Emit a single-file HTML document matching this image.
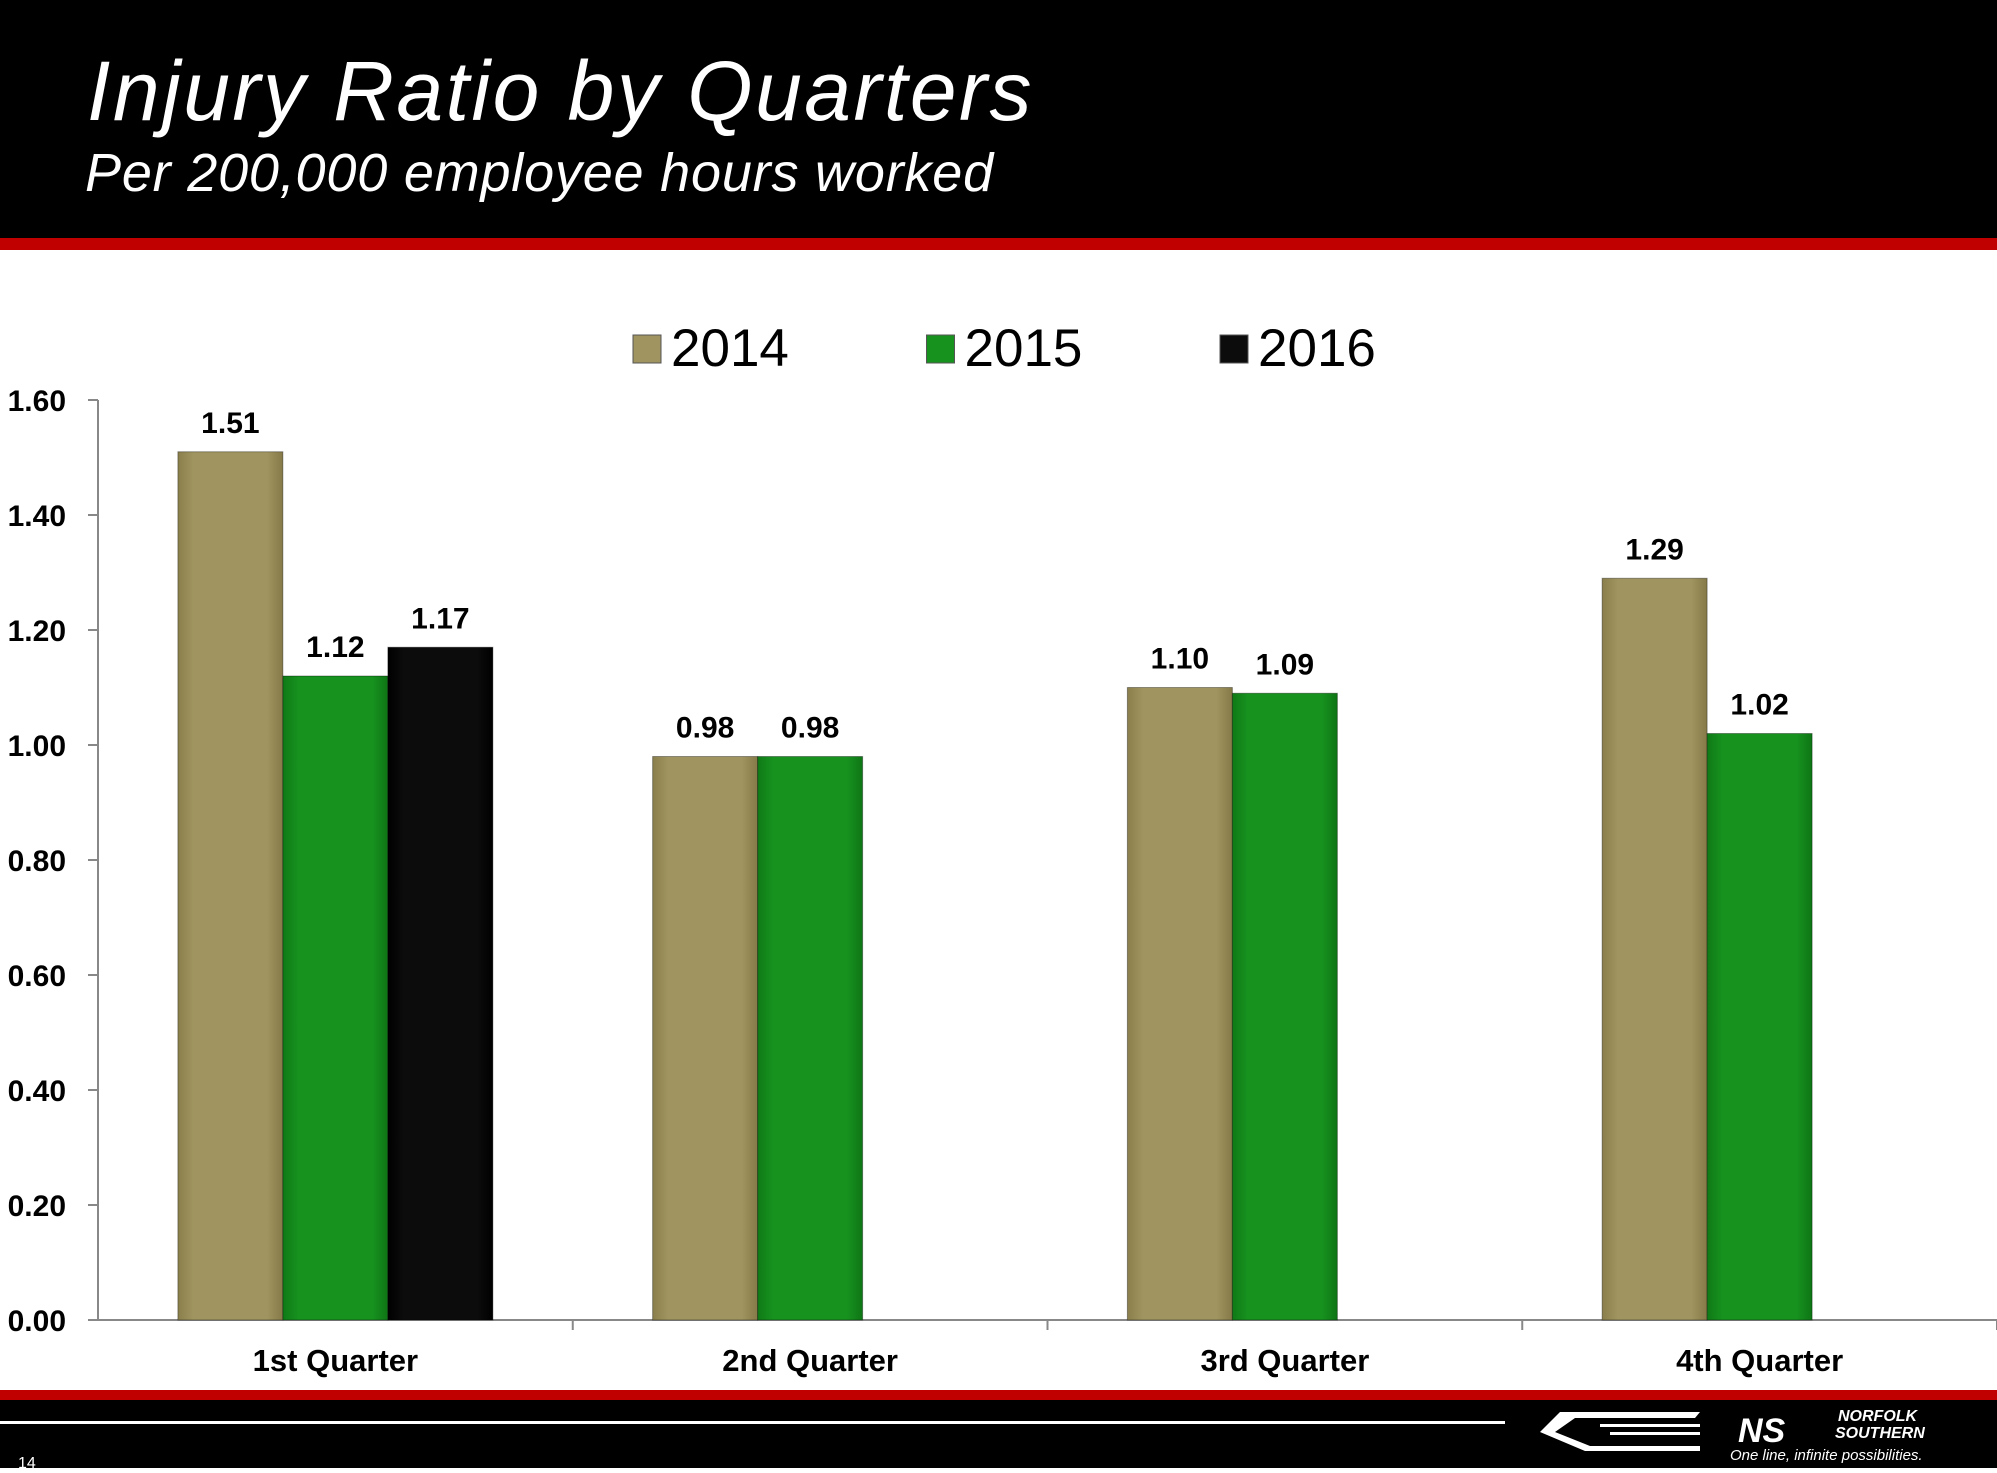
<!DOCTYPE html>
<html><head><meta charset="utf-8"><style>
body{margin:0;width:1997px;height:1468px;overflow:hidden;background:#fff;font-family:"Liberation Sans",Arial,sans-serif}
</style></head><body>
<svg width="1997" height="1468" xmlns="http://www.w3.org/2000/svg">
<defs>
<linearGradient id="gT" x1="0" x2="1"><stop offset="0" stop-color="#8a7f4c"/><stop offset="0.15" stop-color="#a09560"/><stop offset="0.85" stop-color="#a09560"/><stop offset="1" stop-color="#857a48"/></linearGradient>
<linearGradient id="gG" x1="0" x2="1"><stop offset="0" stop-color="#0f7a16"/><stop offset="0.15" stop-color="#17921f"/><stop offset="0.85" stop-color="#17921f"/><stop offset="1" stop-color="#0e7515"/></linearGradient>
<linearGradient id="gB" x1="0" x2="1"><stop offset="0" stop-color="#000"/><stop offset="0.15" stop-color="#0c0c0c"/><stop offset="0.85" stop-color="#0c0c0c"/><stop offset="1" stop-color="#000"/></linearGradient>
</defs>
<rect x="0" y="0" width="1997" height="238" fill="#000"/>
<rect x="0" y="238" width="1997" height="12" fill="#c00000"/>
<text x="87" y="120" font-size="84" letter-spacing="2.5" font-style="italic" fill="#fff">Injury Ratio by Quarters</text>
<text x="85" y="191" font-size="54" letter-spacing="0.8" font-style="italic" fill="#fff">Per 200,000 employee hours worked</text>
<g id="legend"></g>
<g id="axes"></g>
<g id="bars"></g>
<rect x="0" y="1390" width="1997" height="10" fill="#c00000"/>
<rect x="0" y="1400" width="1997" height="68" fill="#000"/>
<rect x="0" y="1421" width="1505" height="3" fill="#fff"/>
<g fill="#fff">
<path d="M1560 1412 L1700 1412 L1695 1418 L1575 1418 L1555 1432 L1590 1446 L1700 1446 L1700 1451 L1585 1451 L1540 1432 Z"/>
<rect x="1600" y="1424" width="100" height="3"/><rect x="1610" y="1432" width="90" height="3"/>
<text x="1738" y="1442" font-size="34" font-weight="bold" font-style="italic">NS</text>
<text x="1838" y="1421" font-size="16" font-weight="bold" font-style="italic">NORFOLK</text>
<text x="1835" y="1438" font-size="16" font-weight="bold" font-style="italic">SOUTHERN</text>
<text x="1730" y="1460" font-size="15" font-style="italic">One line, infinite possibilities.</text>
</g>
<text x="18" y="1468" font-size="16" fill="#fff">14</text>
</svg>
<script>
const categories=["1st Quarter","2nd Quarter","3rd Quarter","4th Quarter"];
const seriesNames=["2014","2015","2016"];
const s2014=[1.51,0.98,1.10,1.29];
const s2015=[1.12,0.98,1.09,1.02];
const s2016=[1.17,null,null,null];
const yTicks=[0,0.2,0.4,0.6,0.8,1.0,1.2,1.4,1.6];
const NS="http://www.w3.org/2000/svg";
const X0=98,X1=1997,Y0=1320,Ytop=400,YMAX=1.6;
const catW=(X1-X0)/categories.length, barW=105;
const y=v=>Y0-(v/YMAX)*(Y0-Ytop);
const xBar=(c,s)=>X0+c*catW+(catW-3*barW)/2+s*barW;
function mk(tag,attrs,parent){const e=document.createElementNS(NS,tag);for(const k in attrs)e.setAttribute(k,attrs[k]);parent.appendChild(e);return e;}
const axes=document.getElementById('axes'),bars=document.getElementById('bars'),legend=document.getElementById('legend');
const fills=["url(#gT)","url(#gG)","url(#gB)"],solid=["#a09560","#17921f","#0c0c0c"];
let e=mk('line',{x1:X0,x2:X0,y1:Ytop,y2:Y0,stroke:'#888','stroke-width':2},axes);


e=mk('line',{x1:X0,x2:X1,y1:Y0,y2:Y0,stroke:'#888','stroke-width':2},axes);


yTicks.forEach(t=>{
 const l=mk('line',{x1:X0-10,x2:X0,y1:y(t),y2:y(t),stroke:'#888','stroke-width':2},axes);
 
 
 const tx=mk('text',{x:66,y:y(t)+11,'font-size':30,'font-weight':'bold','text-anchor':'end',fill:'#000'},axes);
 tx.textContent=t.toFixed(2);
 
 
});
categories.forEach((c,i)=>{
 const l=mk('line',{x1:X0+(i+1)*catW,x2:X0+(i+1)*catW,y1:Y0,y2:Y0+10,stroke:'#888','stroke-width':2},axes);
 
 
 const tx=mk('text',{x:X0+(i+0.5)*catW,y:1371,'font-size':31,'font-weight':'bold','text-anchor':'middle',fill:'#000'},axes);
 tx.textContent=c;
 
 
});
[s2014,s2015,s2016].forEach((arr,s)=>{
 arr.forEach((v,c)=>{
  if(v==null)return;
  const r=mk('rect',{x:xBar(c,s),y:y(v),width:barW,height:Y0-y(v),fill:fills[s],stroke:'rgba(0,0,0,0.35)','stroke-width':1},bars);
  
  
  const t=mk('text',{x:xBar(c,s)+barW/2,y:y(v)-19,'font-size':30,'font-weight':'bold','text-anchor':'middle',fill:'#000'},bars);
  t.textContent=v.toFixed(2);
  
  
 });
});
seriesNames.forEach((n,i)=>{
 const lx=633+i*293.5;
 const r=mk('rect',{x:lx,y:335,width:28,height:28,fill:solid[i],stroke:'#555','stroke-width':1},legend);
 
 
 const t=mk('text',{x:lx+38,y:366,'font-size':53,fill:'#000'},legend);
 t.textContent=n;
 
 
});
</script>
</body></html>
